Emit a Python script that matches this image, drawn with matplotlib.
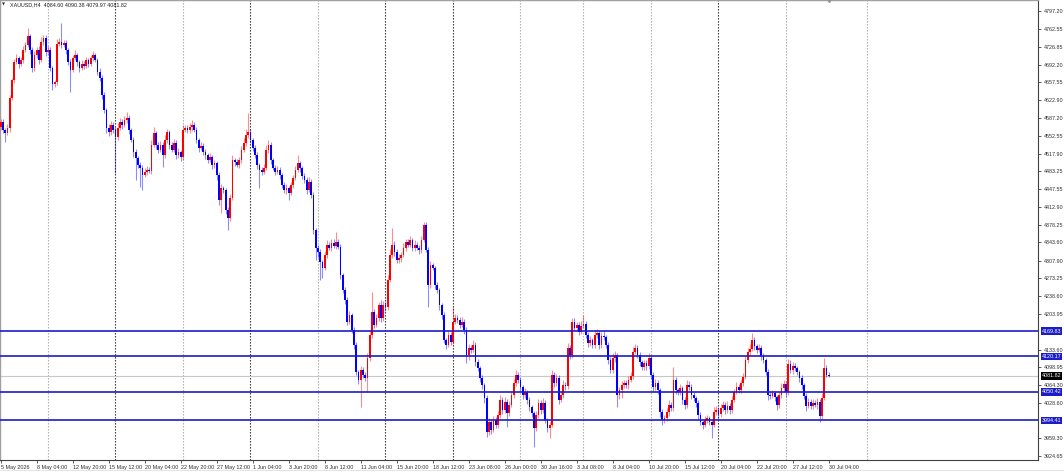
import numpy as np
import matplotlib.pyplot as plt
import matplotlib.transforms as mtransforms
from matplotlib.lines import Line2D

plt.rcParams['font.family'] = ['Liberation Sans', 'DejaVu Sans']

first_open = 4570
closes = [
    4580, 4564, 4558, 4568, 4627, 4662, 4697, 4705, 4694, 4701,
    4721, 4731, 4748, 4721, 4686, 4711, 4721, 4701, 4737, 4745,
    4717, 4721, 4686, 4654, 4658, 4733, 4737, 4731, 4735, 4721,
    4697, 4682, 4705, 4711, 4697, 4686, 4694, 4690, 4701, 4694,
    4705, 4711, 4701, 4678, 4666, 4633, 4603, 4568, 4560, 4574,
    4564, 4550, 4568, 4580, 4574, 4584, 4588, 4564, 4545, 4521,
    4509, 4495, 4490, 4476, 4482, 4486, 4484, 4535, 4558, 4535,
    4525, 4535, 4515, 4545, 4560, 4535, 4525, 4539, 4515, 4521,
    4511, 4564, 4568, 4564, 4570, 4574, 4564, 4545, 4529, 4533,
    4521, 4515, 4505, 4511, 4495, 4499, 4476, 4427, 4450, 4446,
    4407, 4392, 4431, 4505, 4501, 4495, 4505, 4525, 4539, 4554,
    4560, 4545, 4529, 4515, 4495, 4486, 4482, 4490, 4525, 4535,
    4505, 4490, 4482, 4486, 4476, 4456, 4446, 4450, 4441, 4456,
    4470, 4486, 4499, 4490, 4474, 4466, 4446, 4462, 4437, 4368,
    4333, 4325, 4305, 4294, 4319, 4339, 4333, 4343, 4337, 4344,
    4335, 4280, 4250, 4231, 4188, 4201, 4172, 4143, 4090, 4074,
    4093, 4084, 4078, 4117, 4162, 4207, 4182, 4195, 4221, 4195,
    4221, 4217, 4270, 4319, 4339, 4325, 4309, 4313, 4319, 4333,
    4344, 4339, 4348, 4333, 4339, 4333, 4329, 4348, 4378, 4329,
    4260, 4299, 4294, 4260, 4250, 4221, 4201, 4152, 4143, 4162,
    4148, 4188, 4195, 4192, 4182, 4188, 4172, 4123, 4137, 4133,
    4143, 4109, 4097, 4078, 4064, 4039, 3972, 3992, 3976, 3995,
    3986, 4005, 4035, 4015, 4031, 4009, 4025, 4044, 4068, 4084,
    4074, 4060, 4044, 4050, 4035, 4021, 4009, 3980, 4005, 4029,
    4015, 4029, 3995, 3980, 3986, 4084, 4068, 4078, 4035, 4044,
    4064, 4062, 4137, 4123, 4188, 4176, 4182, 4168, 4180, 4184,
    4162, 4146, 4152, 4143, 4162, 4166, 4143, 4160, 4158, 4143,
    4113, 4093, 4117, 4123, 4044, 4054, 4064, 4068, 4064, 4074,
    4082, 4129, 4137, 4123, 4109, 4099, 4107, 4101, 4117, 4084,
    4060, 4068, 4054, 4011, 3995, 3999, 4011, 4025, 4019, 4074,
    4054, 4050, 4058, 4035, 4025, 4064, 4060, 4044, 4039, 4029,
    4005, 3992, 3986, 3995, 3999, 3992, 3986, 4011, 4015, 4007,
    4019, 4025, 4015, 4023, 4015, 4035, 4050, 4060, 4054, 4068,
    4080, 4113, 4129, 4135, 4152, 4140, 4133, 4137, 4121, 4113,
    4090, 4044, 4043, 4048, 4041, 4025, 4044, 4058, 4066, 4050,
    4105, 4093, 4101, 4097, 4090, 4078, 4064, 4042, 4023, 4031,
    4023, 4029, 4025, 4031, 4003, 4039, 4097, 4084.60, 4081.82,
]
# wick length above / below the body, in dollars
upper_wick = [
    5, 6, 4, 8, 6, 5, 7, 9, 5, 6,
    7, 5, 16, 4, 6, 8, 5, 7, 9, 6,
    5, 8, 6, 4, 5, 9, 8, 37, 6, 5,
    4, 7, 6, 9, 5, 4, 8, 6, 7, 5,
    6, 8, 5, 4, 7, 5, 6, 4, 8, 7,
    5, 6, 9, 7, 6, 8, 11, 5, 4, 6,
    5, 4, 6, 5, 8, 7, 6, 9, 12, 5,
    6, 8, 5, 9, 7, 4, 6, 8, 5, 7,
    4, 9, 6, 5, 7, 10, 5, 6, 4, 7,
    5, 6, 4, 8, 5, 7, 4, 6, 9, 5,
    4, 6, 8, 10, 5, 6, 7, 8, 9, 12,
    37, 6, 4, 5, 6, 4, 5, 8, 9, 10,
    5, 4, 6, 7, 5, 4, 6, 8, 5, 7,
    6, 8, 16, 5, 4, 6, 5, 9, 6, 5,
    4, 6, 5, 4, 8, 9, 6, 7, 8, 20,
    6, 5, 4, 6, 5, 9, 4, 5, 6, 4,
    8, 6, 5, 9, 10, 39, 7, 8, 6, 9,
    8, 6, 9, 11, 33, 7, 5, 8, 6, 9,
    7, 6, 8, 5, 9, 6, 5, 8, 6, 5,
    6, 9, 5, 4, 6, 5, 4, 6, 5, 8,
    6, 29, 8, 6, 5, 9, 6, 5, 8, 6,
    9, 5, 6, 4, 5, 4, 6, 8, 5, 9,
    6, 8, 10, 5, 9, 6, 8, 9, 7, 9,
    6, 5, 4, 8, 5, 6, 4, 5, 9, 8,
    6, 9, 5, 4, 7, 10, 6, 8, 5, 7,
    9, 6, 10, 5, 7, 8, 6, 5, 9, 17,
    5, 6, 8, 5, 9, 7, 6, 8, 10, 5,
    6, 5, 9, 8, 4, 6, 7, 5, 6, 8,
    7, 9, 8, 6, 5, 4, 7, 6, 9, 5,
    6, 8, 5, 4, 6, 7, 8, 9, 6, 25,
    6, 5, 8, 4, 6, 10, 7, 5, 6, 4,
    5, 6, 4, 8, 7, 5, 6, 9, 8, 6,
    7, 8, 6, 9, 5, 8, 7, 9, 6, 8,
    7, 9, 8, 10, 14, 6, 5, 8, 6, 5,
    4, 5, 6, 7, 5, 4, 8, 9, 7, 6,
    10, 8, 9, 6, 5, 4, 5, 4, 6, 8,
    5, 7, 6, 8, 5, 9, 20, 6, 5.78,
]
lower_wick = [
    6, 5, 17, 4, 7, 5, 6, 4, 8, 5,
    6, 4, 5, 8, 9, 6, 5, 7, 4, 6,
    8, 5, 7, 12, 6, 5, 4, 6, 5, 7,
    6, 44, 5, 4, 7, 8, 5, 6, 4, 7,
    5, 6, 4, 7, 5, 8, 6, 9, 7, 5,
    6, 70, 5, 4, 7, 5, 6, 8, 5, 9,
    43, 6, 38, 30, 5, 6, 4, 7, 5, 8,
    6, 4, 23, 5, 6, 8, 5, 4, 7, 6,
    8, 5, 4, 6, 5, 7, 4, 6, 8, 5,
    6, 7, 5, 4, 8, 6, 9, 10, 26, 6,
    8, 24, 6, 5, 7, 4, 6, 5, 4, 6,
    5, 6, 7, 5, 8, 36, 6, 5, 4, 6,
    7, 5, 6, 4, 8, 6, 5, 7, 14, 5,
    6, 4, 5, 8, 6, 5, 7, 4, 6, 8,
    24, 9, 35, 20, 5, 6, 4, 7, 5, 6,
    5, 8, 6, 9, 7, 5, 6, 8, 7, 9,
    53, 7, 6, 28, 5, 6, 7, 4, 6, 8,
    5, 7, 6, 4, 5, 8, 6, 5, 7, 4,
    6, 5, 4, 7, 6, 5, 8, 6, 4, 5,
    43, 6, 5, 8, 6, 9, 7, 6, 8, 5,
    6, 4, 5, 7, 6, 5, 8, 16, 9, 6,
    5, 7, 6, 9, 8, 10, 10, 6, 8, 5,
    7, 6, 5, 8, 6, 28, 5, 4, 6, 5,
    7, 5, 8, 6, 9, 7, 8, 38, 6, 5,
    7, 5, 6, 8, 20, 5, 7, 6, 8, 5,
    6, 7, 5, 8, 6, 5, 7, 6, 4, 5,
    6, 8, 5, 7, 6, 5, 8, 6, 5, 7,
    8, 6, 5, 7, 23, 8, 15, 6, 5, 7,
    5, 6, 4, 7, 8, 6, 5, 7, 6, 9,
    7, 6, 8, 9, 10, 6, 5, 7, 6, 5,
    7, 6, 5, 8, 9, 6, 5, 7, 6, 8,
    7, 6, 8, 5, 6, 7, 26, 5, 6, 7,
    5, 6, 8, 5, 7, 6, 5, 4, 6, 5,
    6, 4, 5, 6, 5, 7, 6, 5, 8, 6,
    7, 9, 6, 5, 8, 10, 6, 5, 7, 9,
    5, 6, 7, 5, 6, 8, 7, 6, 9, 5,
    7, 6, 5, 8, 12, 6, 5, 4, 1.85,
]

title = "XAUUSD,H4  4084.60 4090.38 4079.97 4081.82"
x_labels = [
    "5 May 2026", "8 May 04:00", "12 May 20:00", "15 May 12:00", "20 May 04:00",
    "22 May 20:00", "27 May 12:00", "1 Jun 04:00", "3 Jun 20:00", "8 Jun 12:00",
    "11 Jun 04:00", "15 Jun 20:00", "18 Jun 12:00", "23 Jun 08:00", "26 Jun 00:00",
    "30 Jun 16:00", "3 Jul 08:00", "8 Jul 04:00", "10 Jul 20:00", "15 Jul 12:00",
    "20 Jul 04:00", "22 Jul 20:00", "27 Jul 12:00", "30 Jul 04:00",
]
x_label_bars = list(range(0, 369, 16))
y_ticks = [
    4797.20, 4762.55, 4726.85, 4692.20, 4657.55, 4622.90, 4587.20, 4552.55,
    4517.90, 4483.25, 4447.55, 4412.90, 4378.25, 4343.60, 4307.90, 4273.25,
    4238.60, 4203.95, 4133.60, 4098.95, 4064.30, 4028.60, 3959.30, 3924.65,
]
levels = [4169.83, 4120.17, 4050.42, 3994.41]
last_price = 4081.82
separator_bars = [21, 51, 81, 111, 141, 171, 201, 231, 259, 289, 319, 349, 385]
separator_dark = [False, True, False, True, False, True, True, False, False, False, True, False, False]

W, H = 1064, 473
fig = plt.figure(figsize=(W / 100, H / 100), dpi=100)
ax = fig.add_axes([0, 13 / H, 1038 / W, 460 / H])

o = np.array([first_open] + closes[:-1], dtype=float)
c = np.array(closes, dtype=float)
hi = np.maximum(o, c) + np.array(upper_wick)
lo = np.minimum(o, c) - np.array(lower_wick)
x = np.arange(len(c))
bull = c >= o
col = np.where(bull, '#ff0000', '#0000ff')

# grid / separators
for s, dark in zip(separator_bars, separator_dark):
    ax.axvline(s, color='#202020' if dark else '#a8a8a8', lw=0.8,
               ls=(0, (1.2, 1.5)), zorder=1)

ax.axhline(last_price, color='#c8c8c8', lw=0.8, zorder=1)
for lv in levels:
    ax.axhline(lv, color='#1c1cc8', lw=1.2, zorder=4)

ax.vlines(x, lo, hi, colors=col, lw=0.8, alpha=0.45, zorder=2)
ax.bar(x, np.maximum(np.abs(c - o), 1.6), bottom=np.minimum(o, c),
       width=0.8, color=col, linewidth=0, zorder=3)

ax.set_xlim(-0.3, -0.3 + 1038 / 2.25)
ax.set_ylim(4819.0 - 1.961 * 460, 4819.0)

ax.set_xticks(x_label_bars)
ax.set_xticklabels(x_labels, ha='left')
ax.yaxis.tick_right()
ax.set_yticks(y_ticks)
ax.set_yticklabels([f'{v:.2f}' for v in y_ticks])
ax.tick_params(axis='both', direction='out', length=2.5, width=0.6,
               color='#404040', labelcolor='#303030', labelsize=3.9)
ax.tick_params(axis='y', pad=1.5)
ax.tick_params(axis='x', pad=1.2)

for side in ('left', 'top'):
    ax.spines[side].set_color('#a0a0a0')
    ax.spines[side].set_linewidth(1.0)
for side in ('right', 'bottom'):
    ax.spines[side].set_color('#404040')
    ax.spines[side].set_linewidth(0.8)

# price labels on the right axis
ytrans = mtransforms.blended_transform_factory(ax.transAxes, ax.transData)
for lv in levels:
    ax.text(1.0035, lv, f'{lv:.2f}', transform=ytrans, ha='left', va='center',
            fontsize=3.9, color='white', clip_on=False, zorder=6,
            bbox=dict(boxstyle='square,pad=0.2', fc='#1c1cc8', ec='none'))
ax.text(1.0035, last_price, f'{last_price:.2f}', transform=ytrans, ha='left',
        va='center', fontsize=3.9, color='white', clip_on=False, zorder=6,
        bbox=dict(boxstyle='square,pad=0.2', fc='#000000', ec='none'))

# chart shift marker at the top
xtrans = mtransforms.blended_transform_factory(ax.transData, ax.transAxes)
ax.plot([x[-1]], [1.0], marker='v', ms=3, color='#909090', transform=xtrans,
        clip_on=False, zorder=7)

fig.text(2 / W, 1 - 4.5 / H, '\u25bc', fontsize=2.8, color='#303030',
         va='center', family='DejaVu Sans')
fig.text(10 / W, 1 - 4.5 / H, title, fontsize=3.9, color='#202020', va='center')
fig.add_artist(Line2D([0, 1], [3 / H, 3 / H], color='#e4e4e4', lw=0.8,
                      transform=fig.transFigure))

fig.savefig('out.png', dpi=100)
